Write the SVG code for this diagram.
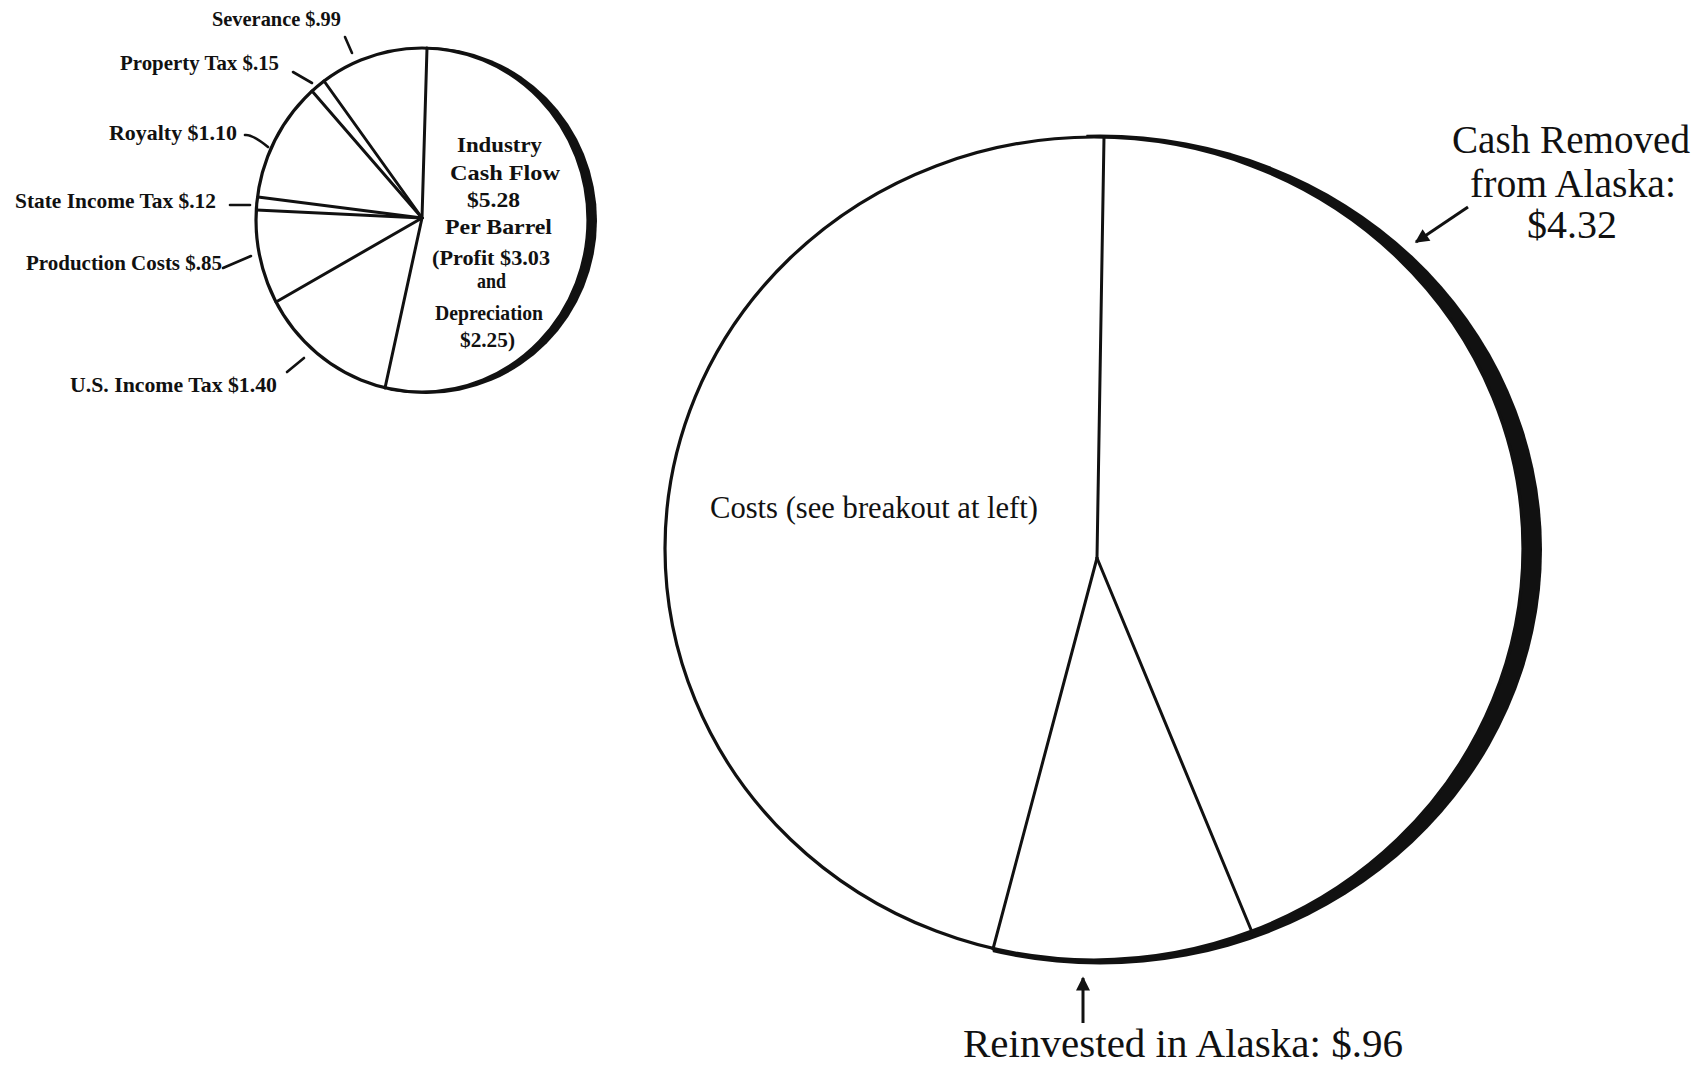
<svg xmlns="http://www.w3.org/2000/svg" width="1701" height="1069" viewBox="0 0 1701 1069">
<style>
.bg{fill:#ffffff}
.pie{fill:#ffffff;stroke:#111;stroke-width:3.2}
.band{fill:#111}
.sep{stroke:#111;stroke-width:3;fill:none;stroke-linecap:round}
.tick{stroke:#111;stroke-width:2.6;fill:none;stroke-linecap:round}
.arrow{stroke:#111;stroke-width:3;fill:none}
.lbl{font-family:"Liberation Serif","Times New Roman",serif;font-weight:bold;font-size:22px;fill:#111}
.big{font-family:"Liberation Serif","Times New Roman",serif;font-size:39px;fill:#111}
.mid{font-family:"Liberation Serif","Times New Roman",serif;font-size:31px;fill:#111}
</style>
<defs>
<marker id="ah" viewBox="0 0 10 10" refX="9" refY="5" markerUnits="userSpaceOnUse" markerWidth="17" markerHeight="14" orient="auto">
<path d="M0,0 L10,5 L0,10 z" fill="#111"/>
</marker>
<clipPath id="clipSmall"><polygon points="425,0 700,0 700,450 385,450"/></clipPath>
<clipPath id="clipBig"><polygon points="1102,0 1701,0 1701,1069 990,1069 993,940"/></clipPath>
</defs>
<rect class="bg" x="0" y="0" width="1701" height="1069"/>

<g id="small-pie">
<ellipse class="band" cx="426" cy="220.5" rx="171" ry="173.5" clip-path="url(#clipSmall)"/>
<ellipse class="pie" cx="422" cy="220" rx="166" ry="172"/>
<line class="sep" x1="422" y1="218" x2="427" y2="48"/>
<line class="sep" x1="422" y1="218" x2="324" y2="81" stroke-width="2.6"/>
<line class="sep" x1="422" y1="218" x2="312" y2="91"/>
<line class="sep" x1="422" y1="218" x2="258" y2="197" stroke-width="2.6"/>
<line class="sep" x1="422" y1="218" x2="256.5" y2="210" stroke-width="2.4"/>
<line class="sep" x1="422" y1="218" x2="276" y2="302"/>
<line class="sep" x1="422" y1="218" x2="385" y2="388" stroke-width="5"/>
<g id="small-pie-center-text">
<text class="lbl" x="457" y="152" textLength="85" lengthAdjust="spacingAndGlyphs">Industry</text>
<text class="lbl" x="450" y="180" textLength="110" lengthAdjust="spacingAndGlyphs">Cash  Flow</text>
<text class="lbl" x="467" y="207" textLength="53" lengthAdjust="spacingAndGlyphs">$5.28</text>
<text class="lbl" x="445" y="234" textLength="107" lengthAdjust="spacingAndGlyphs">Per Barrel</text>
<text class="lbl" x="432" y="265" textLength="118" lengthAdjust="spacingAndGlyphs">(Profit  $3.03</text>
<text class="lbl" x="477" y="288" textLength="29" lengthAdjust="spacingAndGlyphs">and</text>
<text class="lbl" x="435" y="320" textLength="108" lengthAdjust="spacingAndGlyphs">Depreciation</text>
<text class="lbl" x="460" y="347" textLength="55" lengthAdjust="spacingAndGlyphs">$2.25)</text>
</g>
</g>

<g id="small-pie-labels">
<text id="lbl-severance" class="lbl" x="212" y="26" textLength="129" lengthAdjust="spacingAndGlyphs">Severance $.99</text>
<text id="lbl-property" class="lbl" x="120" y="70" textLength="159" lengthAdjust="spacingAndGlyphs">Property Tax $.15</text>
<text id="lbl-royalty" class="lbl" x="109" y="140" textLength="128" lengthAdjust="spacingAndGlyphs">Royalty $1.10</text>
<text id="lbl-state" class="lbl" x="15" y="208" textLength="201" lengthAdjust="spacingAndGlyphs">State Income Tax $.12</text>
<text id="lbl-production" class="lbl" x="26" y="270" textLength="196" lengthAdjust="spacingAndGlyphs">Production Costs $.85</text>
<text id="lbl-us" class="lbl" x="70" y="392" textLength="207" lengthAdjust="spacingAndGlyphs">U.S. Income Tax $1.40</text>
</g>

<g id="big-pie">
<ellipse class="band" cx="1100" cy="549.5" rx="442" ry="415" clip-path="url(#clipBig)"/>
<ellipse class="pie" cx="1094" cy="548.5" rx="429" ry="411.5" stroke-width="3.4"/>
<line class="sep" x1="1097" y1="558" x2="1104" y2="137" stroke-width="3.6"/>
<line class="sep" x1="1097" y1="558" x2="993" y2="949" stroke-width="3.6"/>
<line class="sep" x1="1097" y1="558" x2="1252" y2="932" stroke-width="3.6"/>
<text id="lbl-costs" class="mid" x="710" y="518" textLength="328" lengthAdjust="spacingAndGlyphs">Costs (see breakout at left)</text>
</g>

<g id="big-pie-labels">
<g id="lbl-cash-removed">
<text class="big" x="1452" y="153" textLength="238" lengthAdjust="spacingAndGlyphs">Cash Removed</text>
<text class="big" x="1470" y="197" textLength="206" lengthAdjust="spacingAndGlyphs">from Alaska:</text>
<text class="big" x="1527" y="238" textLength="90" lengthAdjust="spacingAndGlyphs">$4.32</text>
</g>
<text id="lbl-reinvested" class="big" x="963" y="1057" textLength="440" lengthAdjust="spacingAndGlyphs">Reinvested in Alaska: $.96</text>
</g>

<g id="connectors">
<line class="tick" x1="345" y1="37" x2="352" y2="53"/>
<line class="tick" x1="293" y1="72" x2="312" y2="83"/>
<path class="tick" d="M245,135 Q252,134 268,147"/>
<line class="tick" x1="230" y1="205" x2="250" y2="205"/>
<line class="tick" x1="223" y1="268" x2="251" y2="256"/>
<line class="tick" x1="287" y1="372" x2="304" y2="358"/>
<line class="arrow" x1="1468" y1="207" x2="1416" y2="242" marker-end="url(#ah)"/>
<line class="arrow" x1="1083" y1="1023" x2="1083" y2="978" stroke-width="2.6" marker-end="url(#ah)"/>
</g>
</svg>
